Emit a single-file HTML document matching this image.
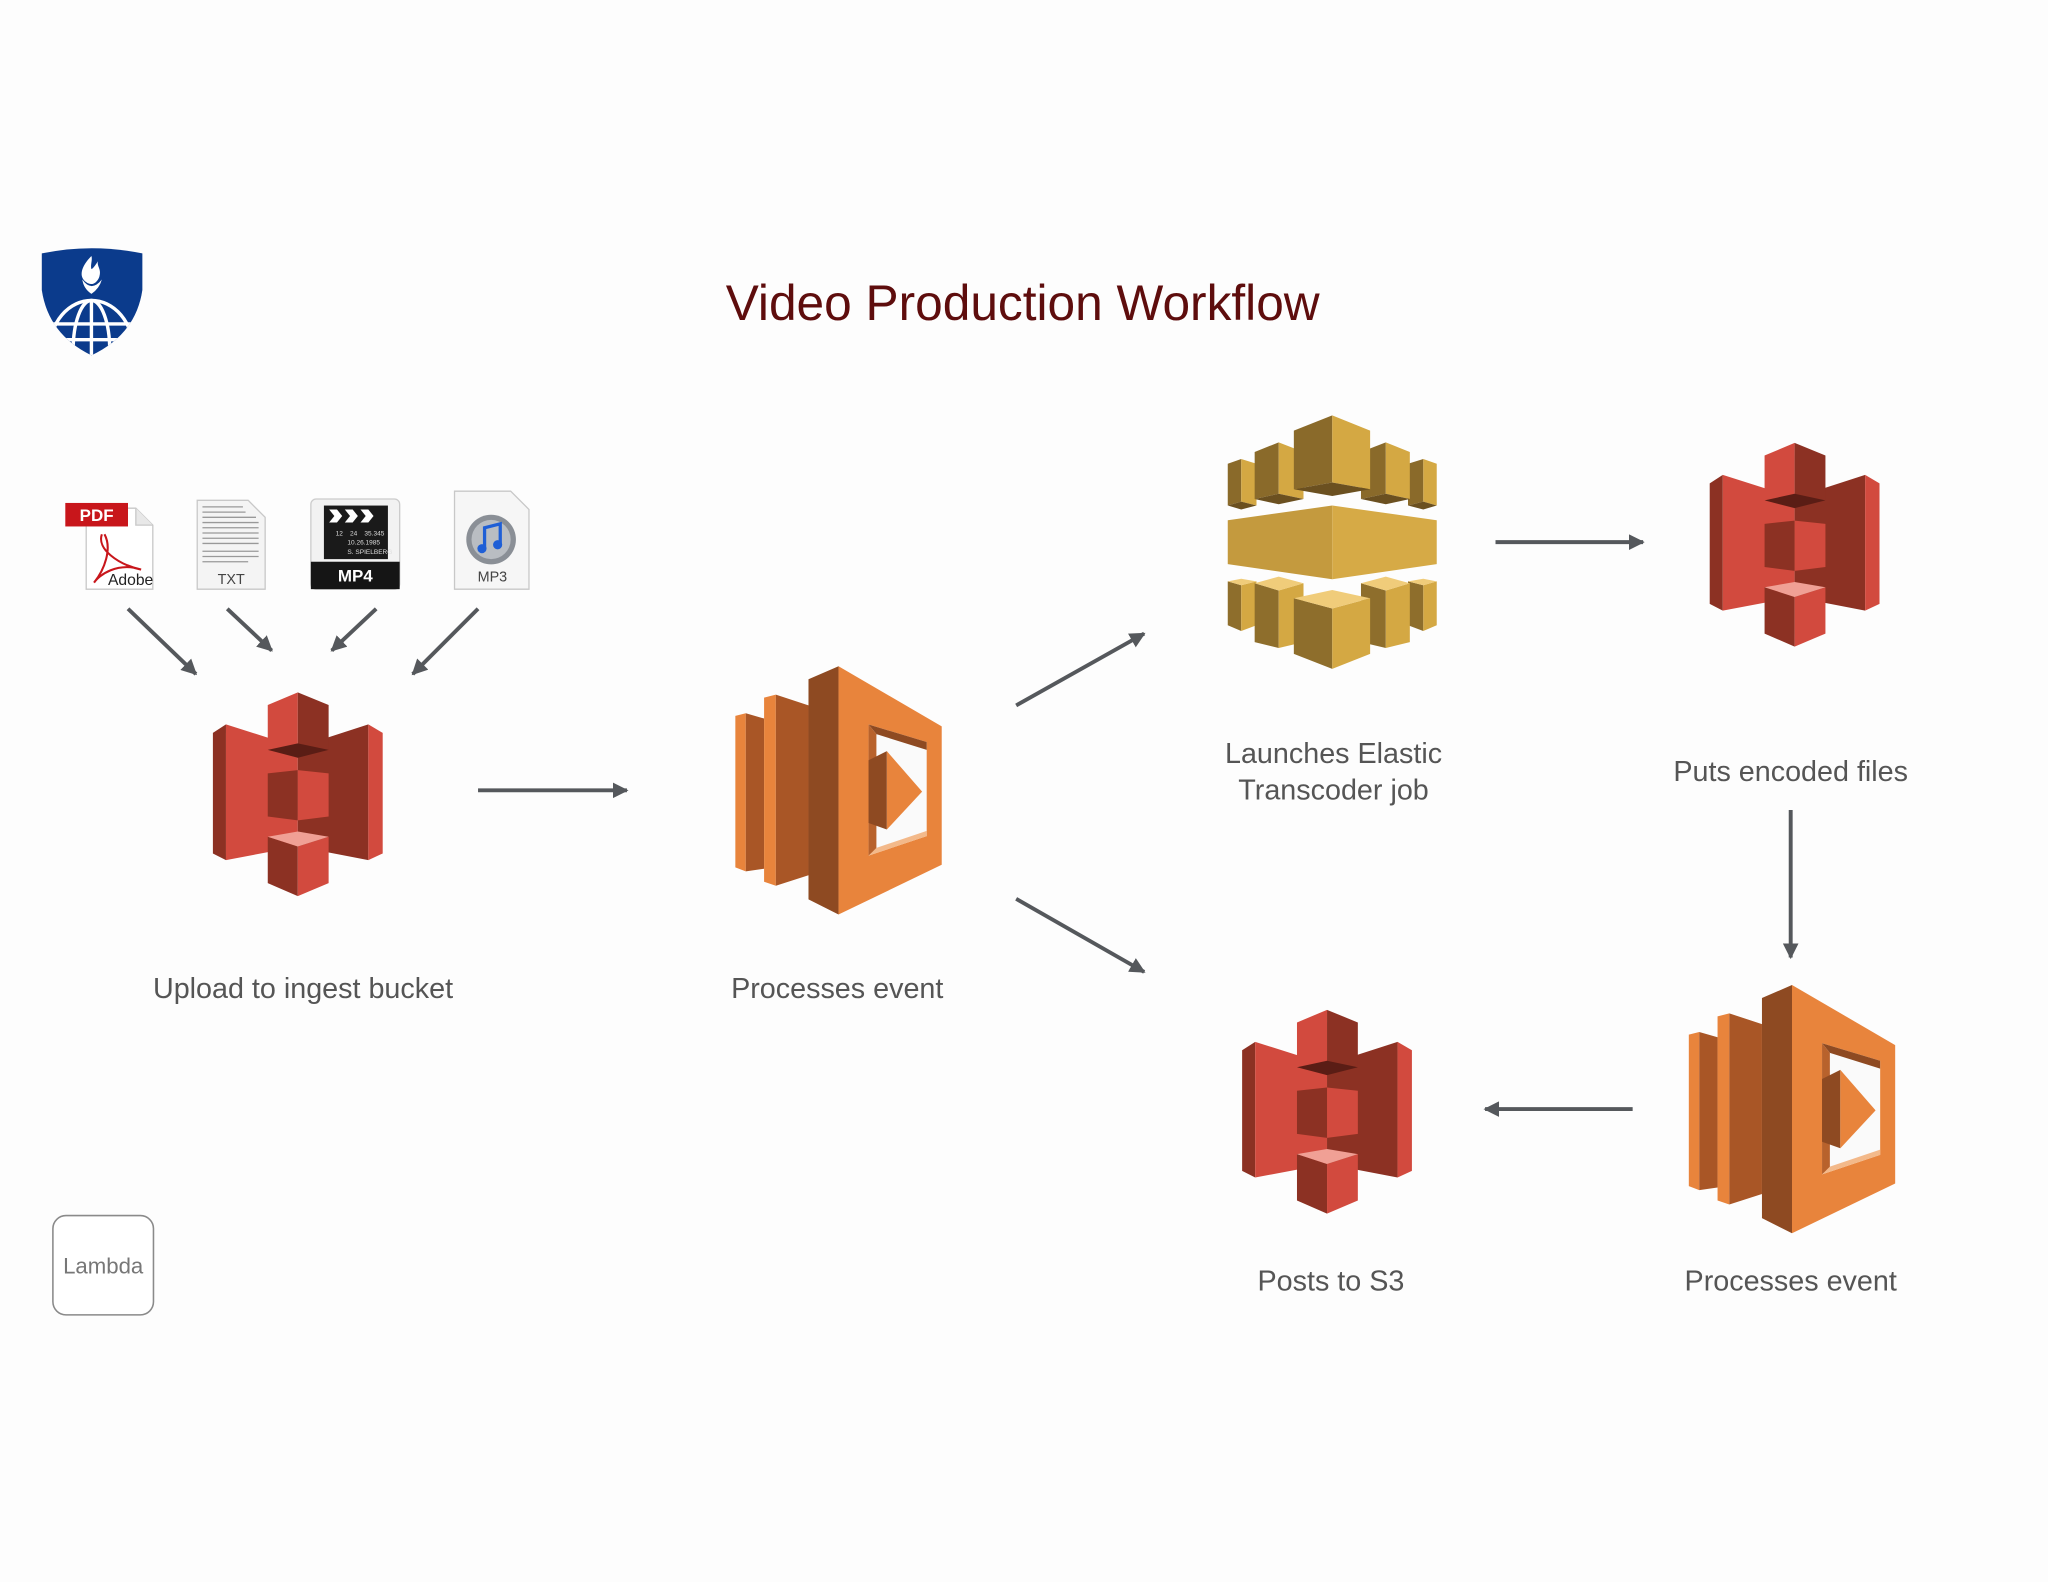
<!DOCTYPE html>
<html><head><meta charset="utf-8"><style>
html,body{margin:0;padding:0;background:#fdfdfd;}
svg{display:block;}
text{font-family:"Liberation Sans",sans-serif;}
</style></head><body>
<svg width="2048" height="1582" viewBox="0 0 1568 1211" preserveAspectRatio="none" xmlns="http://www.w3.org/2000/svg">
<defs>
<marker id="ah" viewBox="0 0 10 10" refX="9" refY="5" markerWidth="4" markerHeight="4" orient="auto"><path d="M0,0 L10,5 L0,10 z" fill="#55585c"/></marker>
<clipPath id="shield"><path d="M32,194 Q70,186 109,194 L109,222 Q104,256 70,272 Q37,256 32,222 Z"/></clipPath>
<g id="s3">
 <polygon points="0,31 10,24.5 10,128.4 0,123.3" fill="#8c3123"/>
 <polygon points="10,24.5 65,42 65,118 10,128.4" fill="#d24a3e"/>
 <polygon points="65,42 119,24.5 119,128.4 65,118" fill="#8c3123"/>
 <polygon points="119,24.5 130,31 130,123.3 119,128.4" fill="#d24a3e"/>
 <polygon points="42,9.7 65,0 65,50 42,44" fill="#d24a3e"/>
 <polygon points="65,0 88.6,9.7 88.6,44 65,50" fill="#8c3123"/>
 <polygon points="42,44 65,39 88.6,44 65,50" fill="#5a1d15"/>
 <polygon points="42,62 65,59.5 65,98 42,95" fill="#8c3123"/>
 <polygon points="65,59.5 88.6,62 88.6,95 65,98" fill="#d24a3e"/>
 <polygon points="42,110.5 65,118 65,156 42,146" fill="#8c3123"/>
 <polygon points="65,118 88.6,110.5 88.6,146 65,156" fill="#d24a3e"/>
 <polygon points="42,110.5 65,106.5 88.6,110.5 65,118" fill="#f0a095"/>
</g>
<g id="lam">
 <polygon points="0,38 8,36 8,157 0,154" fill="#e8843c"/>
 <polygon points="8,36 22,40 22,155 8,157" fill="#a95626"/>
 <polygon points="22,24 31,21.7 31,168 22,165" fill="#e8843c"/>
 <polygon points="31,21.7 56,30 56,160 31,168" fill="#a95626"/>
 <polygon points="56,10 79,0 79,190 56,178.5" fill="#8e4a22"/>
 <polygon points="79,0 158,46 158,152 79,190" fill="#e8843c"/>
 <polygon points="102,44.6 146.5,58 146.5,130 102,145" fill="#fafafa"/>
 <polygon points="102,44.6 146.5,58 146.5,64 108,52" fill="#8e4a22"/>
 <polygon points="102,44.6 108,52 108,140 102,145" fill="#b8622c"/>
 <polygon points="102,145 146.5,130 146.5,126 108,139" fill="#f3b98a"/>
 <polygon points="102,72 116,65 116,125 102,120" fill="#8e4a22"/>
 <polygon points="116,65 143,96 116,125" fill="#e8843c"/>
</g>
<g id="ets">
 <polygon points="0,37 10.3,33.4 10.3,66 0,69" fill="#8a6a2a"/><polygon points="10.3,33.4 22,37 22,69 10.3,66" fill="#d4a843"/><polygon points="0,69 10.3,66 22,69 10.3,72" fill="#6b5020"/>
 <polygon points="138,37 149.7,33.4 149.7,66 138,69" fill="#8a6a2a"/><polygon points="149.7,33.4 160,37 160,69 149.7,66" fill="#d4a843"/><polygon points="138,69 149.7,66 160,69 149.7,72" fill="#6b5020"/>
 <polygon points="20.6,28 39,20.6 39,60 20.6,64" fill="#8a6a2a"/><polygon points="39,20.6 58,28 58,64 39,60" fill="#d4a843"/><polygon points="20.6,64 39,60 58,64 39,68" fill="#6b5020"/>
 <polygon points="102,28 121,20.6 121,60 102,64" fill="#8a6a2a"/><polygon points="121,20.6 139.4,28 139.4,64 121,60" fill="#d4a843"/><polygon points="102,64 121,60 139.4,64 121,68" fill="#6b5020"/>
 <polygon points="50.6,11.6 80,0 80,51.3 50.6,56.5" fill="#8a6a2a"/><polygon points="80,0 109,11.6 109,56.5 80,51.3" fill="#d4a843"/><polygon points="50.6,56.5 80,51.3 109,56.5 80,61.7" fill="#6b5020"/>
 <polygon points="0,80.2 80,69 80,125.4 0,113.8" fill="#c49a3e"/>
 <polygon points="80,69 160,80.2 160,113.8 80,125.4" fill="#d6aa46"/>
 <polygon points="0,127 10.3,130 10.3,165 0,160.6" fill="#8e6e2c"/><polygon points="10.3,130 22,127 22,160.6 10.3,165" fill="#d4a843"/><polygon points="0,127 10.3,125 22,127 10.3,130" fill="#f0cc7a"/>
 <polygon points="138,127 149.7,130 149.7,165 138,160.6" fill="#8e6e2c"/><polygon points="149.7,130 160,127 160,160.6 149.7,165" fill="#d4a843"/><polygon points="138,127 149.7,125 160,127 149.7,130" fill="#f0cc7a"/>
 <polygon points="20.6,128.5 39,134 39,178 20.6,173.5" fill="#8e6e2c"/><polygon points="39,134 58,128.5 58,173.5 39,178" fill="#d4a843"/><polygon points="20.6,128.5 39,123.4 58,128.5 39,134" fill="#f0cc7a"/>
 <polygon points="102,128.5 121,134 121,178 102,173.5" fill="#8e6e2c"/><polygon points="121,134 139.4,128.5 139.4,173.5 121,178" fill="#d4a843"/><polygon points="102,128.5 121,123.4 139.4,128.5 121,134" fill="#f0cc7a"/>
 <polygon points="50.6,140 80,147.8 80,194 50.6,182.5" fill="#8e6e2c"/><polygon points="80,147.8 109,140 109,182.5 80,194" fill="#d4a843"/><polygon points="50.6,140 80,133.6 109,140 80,147.8" fill="#f0cc7a"/>
</g>
</defs>

<rect width="1568" height="1211" fill="#fdfdfd"/>

<path d="M32,194 Q70,186 109,194 L109,222 Q104,256 70,272 Q37,256 32,222 Z" fill="#0b3b8c"/>
<g clip-path="url(#shield)" stroke="#fff" stroke-width="2.6" fill="none">
 <ellipse cx="70" cy="268" rx="32" ry="38"/>
 <ellipse cx="70" cy="268" rx="14" ry="38"/>
 <line x1="70" y1="230" x2="70" y2="275"/>
 <line x1="30" y1="248" x2="110" y2="248"/>
 <line x1="30" y1="260" x2="110" y2="260"/>
</g>
<path d="M70,196 C62,204 60,212 66,216 C70,219 74,217 76,212 C78,206 74,204 75,200 C73,203 71,206 70,206 C69,203 71,199 70,196 Z" fill="#fff"/>
<path d="M63,214 Q70,224 78,214 Q76,221 70,225 Q64,221 63,214Z" fill="#fff"/>

<text x="783" y="245" text-anchor="middle" font-size="38" fill="#5e0d0d">Video Production Workflow</text>

<g>
 <path d="M66,389 L104,389 L117,402 L117,451 L66,451 Z" fill="#fff" stroke="#c8c8c8"/>
 <path d="M104,389 L104,402 L117,402" fill="#e8e8e8" stroke="#c8c8c8"/>
 <rect x="50" y="385" width="48" height="18" fill="#c8161b"/>
 <text x="74" y="399" text-anchor="middle" font-size="13" font-weight="bold" fill="#fff">PDF</text>
 <path d="M78,409 C74,420 90,432 108,436 C90,430 76,440 72,446 C80,436 86,420 80,409" fill="none" stroke="#c8161b" stroke-width="1.6"/>
 <text x="100" y="448" text-anchor="middle" font-size="12" fill="#222">Adobe</text>
</g>
<g>
 <path d="M151,383 L190,383 L203,396 L203,451 L151,451 Z" fill="#f4f4f4" stroke="#c8c8c8"/>
 <g stroke="#999" stroke-width="1">
  <line x1="155" y1="388" x2="186" y2="388"/><line x1="155" y1="392" x2="188" y2="392"/><line x1="155" y1="396" x2="196" y2="396"/>
  <line x1="155" y1="400" x2="198" y2="400"/><line x1="155" y1="404" x2="198" y2="404"/><line x1="155" y1="408" x2="198" y2="408"/>
  <line x1="155" y1="412" x2="198" y2="412"/><line x1="155" y1="416" x2="198" y2="416"/><line x1="155" y1="422" x2="198" y2="422"/>
  <line x1="155" y1="426" x2="198" y2="426"/><line x1="155" y1="430" x2="190" y2="430"/>
 </g>
 <text x="177" y="447" text-anchor="middle" font-size="11" fill="#444">TXT</text>
</g>
<g>
 <rect x="238" y="382" width="68" height="69" rx="4" fill="#f2f2f2" stroke="#ccc"/>
 <rect x="248" y="387" width="49" height="41" fill="#1a1a1a"/>
 <path d="M252,390 l6,0 l4,5 l-4,5 l-6,0 l4,-5z M264,390 l6,0 l4,5 l-4,5 l-6,0 l4,-5z M276,390 l6,0 l4,5 l-4,5 l-6,0 l4,-5z" fill="#fff"/>
 <g font-size="5" fill="#ddd"><text x="257" y="410">12</text><text x="268" y="410">24</text><text x="279" y="410">35.345</text><text x="266" y="417">10.26.1985</text><text x="266" y="424">S. SPIELBERG</text></g>
 <rect x="238" y="430" width="68" height="21" fill="#151515"/>
 <text x="272" y="445" text-anchor="middle" font-size="13" font-weight="bold" fill="#fff">MP4</text>
</g>
<g>
 <path d="M348,376 L391,376 L405,390 L405,451 L348,451 Z" fill="#f6f6f6" stroke="#c8c8c8"/>
 <circle cx="376" cy="413" r="19" fill="#8a8f96"/>
 <circle cx="376" cy="413" r="15" fill="#b9bdc2"/>
 <path d="M371,420 L371,404 L383,401 L383,416" fill="none" stroke="#1f5fd6" stroke-width="2.5"/>
 <circle cx="369" cy="420" r="3.5" fill="#1f5fd6"/><circle cx="381" cy="417" r="3.5" fill="#1f5fd6"/>
 <text x="377" y="445" text-anchor="middle" font-size="11" fill="#444">MP3</text>
</g>

<g stroke="#55585c" stroke-width="3" fill="none" marker-end="url(#ah)">
 <line x1="98" y1="466" x2="150" y2="516"/>
 <line x1="174" y1="466" x2="208" y2="498"/>
 <line x1="288" y1="466" x2="254" y2="498"/>
 <line x1="366" y1="466" x2="316" y2="516"/>
 <line x1="366" y1="605" x2="480" y2="605"/>
 <line x1="778" y1="540" x2="876" y2="485"/>
 <line x1="778" y1="688" x2="876" y2="744"/>
 <line x1="1145" y1="415" x2="1258" y2="415"/>
 <line x1="1371" y1="620" x2="1371" y2="733"/>
 <line x1="1250" y1="849" x2="1137" y2="849"/>
</g>

<use href="#s3" transform="translate(163,530)"/>
<use href="#lam" transform="translate(563,510)"/>
<use href="#ets" transform="translate(940,318)"/>
<use href="#s3" transform="translate(1309,339)"/>
<use href="#s3" transform="translate(951,773)"/>
<use href="#lam" transform="translate(1293,754)"/>

<g font-size="22" fill="#555" text-anchor="middle">
 <text x="232" y="764">Upload to ingest bucket</text>
 <text x="641" y="764">Processes event</text>
 <text x="1021" y="584">Launches Elastic</text>
 <text x="1021" y="612">Transcoder job</text>
 <text x="1371" y="598">Puts encoded files</text>
 <text x="1019" y="988">Posts to S3</text>
 <text x="1371" y="988">Processes event</text>
</g>

<rect x="40.5" y="930.5" width="77" height="76" rx="10" fill="#fff" stroke="#8a8a8a" stroke-width="1.2"/>
<text x="79" y="975" text-anchor="middle" font-size="17" fill="#777">Lambda</text>
</svg>
</body></html>
